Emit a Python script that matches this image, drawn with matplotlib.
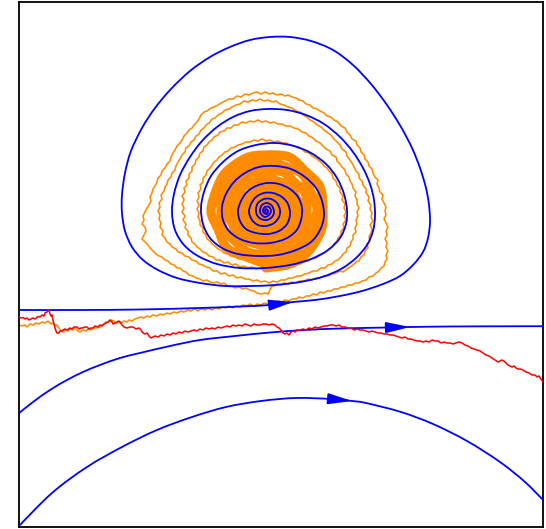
import numpy as np
import matplotlib
matplotlib.use("Agg")
import matplotlib.pyplot as plt
from matplotlib.patches import FancyArrowPatch, PathPatch
from matplotlib.path import Path

# Coordinates (x to the right, y downward).

blue_spiral = [
    (18, 310), (80, 310), (140, 309.5), (200, 308), (240, 306.5), (270, 305), (293, 302),
    (315, 300), (340, 296), (362, 291), (383, 284), (400, 276), (413, 265), (423, 252),
    (428, 238), (430, 222), (429, 205), (426, 188), (420, 168), (412, 148), (401, 127),
    (387, 105), (371, 84), (353, 65), (333, 50), (311, 41), (290, 37), (270, 37), (250, 40),
    (230, 47), (210, 57), (190, 71), (171, 89), (155, 108), (142, 128), (131, 151),
    (125, 173), (122, 195), (122, 213), (125, 231), (132, 247), (143, 260), (158, 270),
    (177, 278), (200, 283), (225, 286), (250, 286), (275, 285), (300, 282), (322, 277),
    (341, 269), (356, 258), (367, 245), (373, 231), (375, 216), (374, 200), (370, 184),
    (363, 168), (353, 152), (340, 137), (324, 124), (306, 115), (287, 110), (268, 109),
    (250, 111), (233, 117), (217, 127), (202, 141), (190, 157), (180, 175), (174, 194),
    (172, 212), (175, 230), (184, 245), (198, 256), (217, 264), (240, 268), (265, 268),
    (290, 265), (311, 259), (328, 250), (340, 238), (346, 224), (347, 210), (344, 194),
    (337, 178), (326, 164), (311, 153), (294, 146), (275, 143), (256, 145), (238, 151),
    (223, 162), (211, 176), (204, 192), (201, 208), (203, 224), (210, 238), (222, 248),
    (238, 254), (258, 256), (278, 255), (296, 250), (311, 242), (320, 230), (324, 216),
    (322, 201), (316, 188), (305, 177), (291, 169), (275, 166), (259, 167), (245, 173),
    (234, 182), (226, 194), (222, 207), (223, 220), (229, 231), (240, 239), (254, 243),
    (270, 243), (285, 239), (296, 231), (301, 220), (302, 208), (298, 197), (290, 189),
    (279, 184), (267, 183), (256, 186), (247, 192), (241, 201), (238, 211), (240, 221),
    (246, 229), (256, 233), (268, 234), (279, 231), (287, 224), (290, 214), (288, 204),
    (282, 197), (273, 193), (264, 193), (256, 197), (251, 204), (249, 212), (252, 220),
    (258, 225), (266, 226), (274, 223), (279, 217), (280, 210), (277, 203), (271, 199),
    (264, 199), (258, 203), (256, 209), (257, 215), (261, 219), (267, 220), (272, 217),
    (274, 212), (272, 206), (267, 203), (262, 205), (260, 210), (261, 214), (265, 217),
    (269, 215), (271, 211), (269, 207), (265, 207), (263, 210), (264, 213), (267, 214),
    (268, 211), (266, 209), (265, 211), (266, 212),
]

blue_middle = [
    (18, 414), (33, 402), (50, 390), (67, 380), (83, 372), (100, 365), (120, 358),
    (140, 353), (170, 346), (200, 340), (235, 336), (270, 332.5), (305, 330),
    (340, 328.5), (388, 327.5), (410, 327), (450, 326.5), (500, 326.3), (546, 326.2),
]

blue_lower = [
    (18, 527), (52, 493), (87, 467), (122, 447), (157, 430), (192, 417), (226, 407),
    (261, 401), (296, 398), (331, 399), (352, 401), (366, 403), (401, 412), (433, 424),
    (467, 441), (500, 462), (525, 482), (546, 503),
]

red_path = [
    (19, 317), (21, 318), (23, 317.5), (25, 319), (27, 318), (29, 320), (31, 319), (33, 318),
    (35, 319), (38, 316.5), (40, 317), (42, 315), (44, 316), (45, 313), (47, 312), (49, 310),
    (50, 314), (51, 316), (52, 315), (53, 320), (54, 324), (55, 328), (56, 331), (57, 333),
    (59, 333), (60, 331), (62, 331), (63, 330), (65, 329), (67, 330), (70, 328), (72, 329),
    (74, 327), (77, 327), (79, 329), (81, 328), (83, 328), (85, 327), (87, 327), (89, 329),
    (91, 328), (93, 328), (95, 326), (98, 327), (100, 325), (102, 326), (104, 324),
    (106, 323), (108, 322), (110, 320), (112, 322), (113, 324), (115, 323), (117, 322),
    (119, 321), (120, 322), (122, 325), (124, 327), (127, 328), (130, 327), (133, 327),
    (136, 329), (139, 328), (141, 330), (143, 333), (145, 334), (147, 333), (149, 336),
    (151, 338), (153, 337), (155, 336), (158, 337), (161, 335), (164, 336), (167, 334),
    (170, 335), (173, 333), (176, 334), (179, 332), (182, 333), (185, 331), (188, 332),
    (191, 331), (194, 330), (197, 331), (200, 329), (203, 330), (206, 328), (209, 329),
    (212, 328), (215, 329), (218, 327), (221, 328), (224, 327), (227, 326), (230, 327),
    (233, 325), (236, 326), (239, 325), (242, 326), (245, 324), (248, 325), (251, 326),
    (254, 324), (257, 325), (260, 325), (263, 324), (266, 324), (269, 325), (272, 324),
    (275, 325), (277, 327), (279, 328), (281, 330), (283, 333), (285, 334), (287, 333),
    (289, 335), (291, 332), (293, 331), (295, 332), (297, 330), (300, 330), (303, 329),
    (306, 330), (309, 328), (312, 329), (315, 327), (318, 328), (321, 327), (324, 326),
    (327, 326), (330, 325), (333, 325), (336, 326), (339, 325), (342, 327), (345, 327),
    (348, 328), (351, 328), (354, 330), (357, 329), (360, 330), (363, 330), (366, 331),
    (369, 332), (372, 331), (375, 332), (378, 333), (381, 333), (384, 334), (387, 334),
    (390, 335), (393, 335), (396, 336), (399, 337), (402, 338), (405, 337), (408, 339),
    (411, 339), (414, 340), (417, 341), (420, 341), (423, 342), (426, 341), (429, 342),
    (432, 340), (435, 341), (438, 341), (441, 343), (444, 342), (447, 343), (450, 343),
    (453, 344), (456, 343), (459, 342), (462, 343), (465, 345), (468, 346), (471, 348),
    (474, 349), (477, 350), (480, 351), (483, 353), (486, 355), (489, 356), (492, 358),
    (495, 360), (498, 362), (500, 361), (502, 360), (504, 361), (506, 363), (508, 365),
    (510, 366), (512, 367), (514, 366), (516, 368), (518, 369), (520, 369), (523, 370),
    (526, 372), (529, 373), (532, 375), (535, 375), (537, 377), (539, 376), (541, 379),
    (543, 382), (546, 386),
]

# noisy orange trajectory: outer (thin) part
orange_outer = [
    (19, 325), (22, 326), (25, 325), (27, 327), (30, 324), (33, 325), (36, 323), (39, 324),
    (42, 322), (45, 323), (48, 321), (51, 324), (53, 323), (55, 326), (57, 325), (59, 328),
    (61, 331), (63, 332), (65, 330), (68, 331), (70, 329), (73, 330), (75, 328), (78, 331),
    (80, 332), (83, 330), (86, 331), (88, 329), (91, 330), (94, 328), (97, 328), (100, 327),
    (102, 325), (104, 324), (106, 322), (109, 322), (111, 320), (114, 321), (116, 323),
    (119, 322), (121, 323), (124, 321), (127, 322), (129, 320), (132, 321), (135, 319),
    (138, 318), (141, 317), (144, 318), (147, 316), (150, 317), (153, 315), (157, 316),
    (160, 314), (163, 315), (167, 313), (170, 314), (174, 312), (177, 313), (181, 311),
    (184, 312), (188, 310), (191, 311), (195, 309), (198, 311), (201, 309), (205, 310),
    (208, 308), (212, 310), (215, 308), (219, 309), (222, 307), (226, 308), (229, 306),
    (233, 308), (236, 306), (240, 307), (243, 305), (247, 306), (250, 304), (254, 306),
    (257, 304), (261, 305), (264, 303), (268, 304), (271, 302), (275, 303), (278, 301),
    (282, 302), (285, 300), (289, 301), (292, 299), (296, 299), (299, 297), (303, 298),
    (306, 296), (310, 296), (313, 294), (317, 295), (320, 292), (324, 293), (327, 291),
    (331, 291), (334, 289), (338, 289), (341, 287), (345, 287), (348, 285), (352, 285),
    (355, 283), (359, 283), (362, 281), (366, 280), (369, 277), (373, 276), (376, 273),
    (379, 271), (381, 268), (384, 266), (385, 262), (387, 259), (386, 255), (388, 251),
    (386, 247), (387, 243), (385, 239), (387, 235), (386, 231), (388, 227), (386, 223),
    (384, 219), (386, 215), (385, 211), (386, 207), (384, 203), (382, 199), (383, 195),
    (380, 192), (379, 188), (377, 184), (378, 180), (375, 177), (373, 173), (372, 169),
    (369, 166), (368, 162), (365, 159), (364, 155), (361, 152), (360, 148), (357, 145),
    (356, 141), (352, 139), (350, 135), (347, 132), (345, 128), (341, 126), (338, 122),
    (334, 120), (331, 117), (327, 116), (324, 113), (320, 111), (317, 109), (313, 108),
    (310, 105), (306, 104), (303, 101), (299, 100), (296, 98), (292, 97), (288, 95),
    (285, 96), (281, 94), (277, 95), (273, 93), (269, 94), (265, 92), (261, 94), (257, 92),
    (253, 93), (249, 95), (245, 94), (241, 97), (237, 96), (233, 99), (229, 99), (225, 101),
    (221, 103), (218, 105), (214, 107), (211, 108), (207, 111), (204, 112), (201, 115),
    (199, 119), (197, 122), (194, 125), (192, 128), (189, 130), (187, 133), (184, 136),
    (182, 140), (180, 143), (177, 146), (175, 150), (173, 153), (171, 157), (170, 161),
    (167, 164), (165, 168), (162, 171), (161, 175), (158, 178), (157, 182), (155, 186),
    (153, 189), (152, 193), (150, 197), (151, 201), (149, 205), (147, 208), (145, 212),
    (143, 216), (144, 220), (142, 224), (145, 227), (146, 231), (144, 235), (142, 239),
    (145, 242), (148, 245), (150, 248), (153, 251), (156, 254), (159, 256), (162, 257),
    (165, 260), (168, 261), (171, 264), (174, 265), (177, 268), (180, 268), (183, 271),
    (186, 272), (189, 275), (193, 276), (196, 278), (200, 279), (203, 281), (207, 280),
    (210, 282), (214, 283), (217, 282), (221, 284), (224, 283), (228, 286), (232, 286),
    (235, 288), (239, 287), (243, 289), (246, 288), (250, 290), (254, 291), (257, 293),
    (261, 294), (265, 293), (268, 294), (270, 290), (271, 287), (274, 286), (277, 284),
    (281, 285), (284, 283),
    (288, 284), (292, 282), (296, 283), (300, 281), (304, 281), (308, 279), (312, 280),
    (316, 278), (320, 278), (324, 276), (328, 276), (332, 274), (336, 273), (340, 271),
    (343, 272), (347, 269), (350, 267), (353, 265), (356, 262), (359, 261), (361, 257),
    (364, 255), (365, 251), (368, 248), (367, 244), (370, 241), (369, 237), (371, 233),
    (372, 229), (370, 225), (373, 221), (371, 217), (372, 213), (370, 209), (371, 205),
    (368, 201), (369, 197), (366, 193), (366, 189), (363, 185), (362, 181), (359, 178),
    (359, 174), (356, 171), (354, 167), (352, 163), (350, 160), (347, 156), (346, 152),
    (342, 149), (340, 145), (337, 142), (334, 139), (331, 135), (328, 133), (324, 130),
    (321, 127), (317, 125), (314, 122), (310, 120), (307, 117), (303, 115), (300, 112),
    (296, 111), (292, 108), (288, 107), (284, 105), (280, 104), (276, 101), (272, 102),
    (268, 100), (264, 101), (260, 99), (256, 101), (252, 100), (248, 102), (244, 101),
    (240, 104), (236, 105), (232, 107), (229, 109), (225, 110), (222, 113), (218, 115),
    (215, 118), (212, 119), (209, 123), (206, 125), (204, 128), (201, 130), (199, 134),
    (196, 136), (194, 140), (191, 142), (189, 146), (186, 148), (185, 152), (182, 155),
    (180, 159), (178, 162), (176, 166), (175, 170), (172, 173), (171, 177), (168, 180),
    (167, 184), (165, 187), (164, 191), (161, 195), (162, 199), (159, 203), (160, 207),
    (158, 211), (160, 215), (159, 219), (161, 223), (160, 227), (163, 231), (162, 235),
    (165, 238), (167, 242), (170, 244), (172, 247), (176, 249), (178, 252), (182, 253),
    (185, 256), (189, 257), (192, 260), (196, 261), (199, 264), (203, 265), (206, 267),
    (210, 268), (213, 271), (217, 271), (221, 274), (225, 273), (229, 276), (233, 275),
    (237, 278), (241, 277), (245, 279), (249, 279), (253, 281), (257, 280), (261, 282),
    (265, 281), (269, 283), (273, 281), (277, 282), (281, 280),
    (285, 280), (289, 278), (293, 278), (297, 276), (301, 276), (305, 274), (309, 273),
    (313, 271), (317, 271), (321, 268), (325, 268), (328, 265), (332, 264), (335, 261),
    (338, 260), (341, 257), (343, 254), (346, 252), (347, 248), (350, 246), (351, 242),
    (353, 239), (353, 235), (356, 232), (355, 228), (357, 224), (356, 220), (358, 216),
    (357, 212), (359, 208), (357, 204), (357, 200), (355, 196), (356, 192), (353, 188),
    (352, 184), (350, 181), (349, 177), (346, 174), (345, 170), (342, 167), (340, 164),
    (337, 161), (336, 157), (332, 155), (330, 151), (326, 149), (323, 146), (320, 143),
    (316, 141), (313, 138), (309, 136), (306, 133), (302, 132), (298, 129), (294, 128),
    (290, 126), (286, 126), (282, 124), (278, 124), (274, 122), (270, 123), (266, 121),
    (262, 122), (258, 120), (254, 122), (250, 121), (246, 123), (242, 122), (238, 125),
    (234, 125), (231, 128), (227, 128), (224, 131), (220, 132), (218, 135), (214, 137),
    (212, 140), (209, 142), (207, 145), (204, 147), (203, 151), (200, 153), (199, 157),
    (196, 160), (195, 164), (192, 167), (192, 171), (189, 174), (189, 178), (186, 181),
    (187, 185), (184, 188), (185, 192), (182, 196), (184, 200), (182, 204), (184, 208),
    (182, 212), (185, 216), (183, 220), (186, 224), (185, 228), (188, 231), (188, 235),
    (191, 238), (192, 242), (195, 244), (197, 247), (200, 249), (203, 252), (206, 253),
    (209, 256), (213, 257), (216, 260), (220, 260), (224, 263), (228, 262), (232, 265),
    (236, 264), (240, 267), (244, 266), (248, 268), (252, 267), (256, 269), (260, 268),
    (264, 270), (268, 268), (272, 269), (276, 267), (280, 268), (284, 266),
    (288, 266), (292, 266), (296, 264), (300, 264), (304, 262), (308, 261), (312, 259),
    (316, 258), (319, 256), (323, 254), (326, 252), (329, 249), (332, 247), (334, 244),
    (337, 241), (338, 238), (341, 235), (341, 231), (344, 228), (343, 224), (346, 220),
    (344, 216), (346, 212), (344, 208), (345, 204), (342, 200), (343, 196), (340, 192),
    (340, 188), (337, 185), (336, 181), (333, 178), (332, 174), (329, 171), (327, 168),
    (324, 166), (322, 163), (318, 160), (316, 158), (312, 156), (309, 153), (305, 152),
    (302, 149), (298, 148), (294, 146), (290, 145), (286, 143), (282, 143), (278, 141),
    (274, 142), (270, 140), (266, 141), (262, 139), (258, 141), (254, 140), (250, 142),
    (246, 142), (242, 144), (238, 145), (235, 147), (231, 148), (228, 151), (225, 152),
    (222, 155), (219, 157), (217, 160), (214, 162), (212, 165), (210, 168), (207, 171),
    (206, 175), (203, 178), (203, 182), (200, 185), (201, 189), (198, 193), (199, 197),
    (197, 201), (199, 205), (197, 209), (199, 213), (198, 217), (200, 221), (200, 225),
    (203, 228), (203, 232), (206, 235), (207, 239), (210, 241), (212, 244), (215, 246),
    (218, 249), (221, 250), (224, 253), (228, 254), (231, 256), (235, 257), (239, 259),
    (243, 259), (247, 261), (251, 261), (255, 263), (259, 262), (263, 264), (266, 265),
]

# dense core of the orange trajectory
orange_core = [
    (266, 268), (290, 264), (307, 253), (321, 231), (323, 211), (320, 187), (305, 171),
    (289, 157), (265, 155), (246, 158), (226, 172), (217, 188), (211, 211), (218, 229),
    (227, 248), (247, 257),
    (266, 263), (285, 258), (303, 245), (312, 230), (317, 209), (311, 192), (302, 174),
    (284, 166), (267, 161), (247, 167), (234, 176), (222, 193), (221, 209), (223, 228),
    (235, 241), (248, 252),
    (265, 254), (284, 249), (295, 241), (306, 225), (307, 211), (305, 193), (294, 182),
    (283, 172), (265, 171), (252, 173), (237, 183), (231, 194), (227, 211), (232, 223),
    (239, 237), (253, 243),
    (267, 246), (279, 244), (292, 234), (297, 224), (301, 209), (296, 198), (290, 186),
    (277, 181), (266, 177), (255, 182), (243, 187), (239, 199), (235, 210), (240, 222),
    (244, 231), (256, 235),
    (266, 238), (276, 235), (285, 229), (290, 220), (292, 210), (290, 200), (284, 192),
    (275, 187), (266, 186), (257, 188), (250, 194), (245, 201), (244, 210), (246, 218),
    (251, 225), (258, 229),
    (266, 230), (274, 228), (279, 223), (283, 217), (284, 210), (282, 203), (278, 198),
    (272, 195), (266, 194), (260, 196), (255, 199), (253, 204), (252, 210), (253, 215),
    (257, 219), (261, 221),
    (266, 222), (271, 220), (274, 217), (277, 214), (277, 210), (276, 206), (273, 203),
    (269, 201), (266, 201), (262, 202), (259, 204), (258, 207), (257, 210), (258, 213),
    (261, 215), (263, 216),
    (266, 215), (270, 213), (271, 210), (269, 206), (266, 205), (262, 207), (261, 210),
    (263, 213), (266, 213),
]

# indices of the segments that carry a direction arrow
spiral_arrow_idx = 5
middle_arrow_idx = 14
lower_arrow_idx = 9

BLUE = "#0000ff"
ORANGE = "#ff8c00"
RED = "#ff0000"

W, H = 546, 529
fig = plt.figure(figsize=(W / 100, H / 100), dpi=100)
ax = fig.add_axes([18.5 / W, 2 / H, (543 - 18.5) / W, (527 - 2) / H])
ax.set_xlim(18.5, 543)
ax.set_ylim(527, 2)


def xy(points):
    arr = np.array(points, dtype=float)
    return arr[:, 0], arr[:, 1]


def smooth_curve(points, color, lw, zorder):
    """Draw a smooth (Catmull-Rom style Bezier) curve through the read points."""
    P = np.array(points, dtype=float)
    n = len(P)
    verts = [P[0]]
    codes = [Path.MOVETO]
    for i in range(n - 1):
        p0 = P[i - 1] if i > 0 else P[i]
        p1, p2 = P[i], P[i + 1]
        p3 = P[i + 2] if i + 2 < n else P[i + 1]
        verts += [p1 + (p2 - p0) / 6.0, p2 - (p3 - p1) / 6.0, p2]
        codes += [Path.CURVE4] * 3
    ax.add_patch(PathPatch(Path(verts, codes), fill=False, edgecolor=color,
                           lw=lw, zorder=zorder, joinstyle="round",
                           capstyle="round"))


ox, oy = xy(orange_outer)
ax.plot(ox, oy, color=ORANGE, lw=1.15, zorder=1)
smooth_curve(orange_core, ORANGE, 6.6, 1)

for pts in (blue_spiral, blue_middle, blue_lower):
    smooth_curve(pts, BLUE, 1.3, 3)

rx, ry = xy(red_path)
ax.plot(rx, ry, color=RED, lw=1.1, zorder=4)


def add_arrow(points, i):
    (x0, y0), (x1, y1) = points[i], points[i + 1]
    ax.add_patch(FancyArrowPatch((x0, y0), (x1, y1),
                                 arrowstyle="-|>,head_length=1.45,head_width=0.33",
                                 mutation_scale=10, color=BLUE, lw=1.3,
                                 shrinkA=0, shrinkB=0, zorder=3))


add_arrow(blue_spiral, spiral_arrow_idx)
add_arrow(blue_middle, middle_arrow_idx)
add_arrow(blue_lower, lower_arrow_idx)

ax.set_xticks([])
ax.set_yticks([])
for sp in ax.spines.values():
    sp.set_color("black")
    sp.set_linewidth(1.3)

fig.savefig("out.png", dpi=100)
